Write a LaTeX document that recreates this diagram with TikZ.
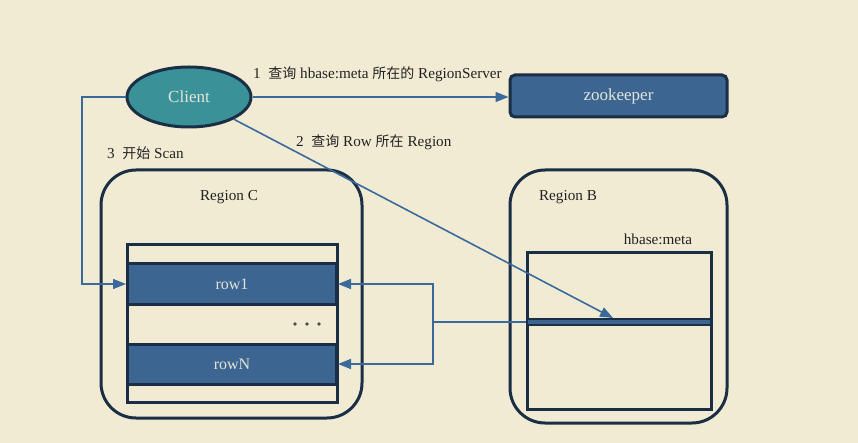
\documentclass[tikz,border=0pt]{standalone}
\usepackage{fontspec}
\setmainfont{Liberation Serif}
\newfontfamily\cjk{Noto Sans CJK SC}
\newcommand{\zh}[1]{{\cjk\fontsize{14}{16}\selectfont #1}}
\usetikzlibrary{arrows.meta,shapes.geometric,calc}
\definecolor{bg}{HTML}{F2EBD4}
\definecolor{teal}{HTML}{3A9298}
\definecolor{boxblue}{HTML}{3D6592}
\definecolor{dark}{HTML}{1A2E45}
\definecolor{arrowblue}{HTML}{3A6A9C}
\definecolor{lighttext}{HTML}{E2E6D8}
\definecolor{txt}{HTML}{222222}
\tikzset{
  region/.style={draw=dark, line width=3pt, rounded corners=35pt},
  tbl/.style={draw=dark, line width=3pt, fill=bg},
  rowbox/.style={draw=dark, line width=3pt, fill=boxblue, text=lighttext, minimum width=209pt, minimum height=40pt, inner sep=0pt, font=\fontsize{16}{18}\selectfont},
  conn/.style={draw=arrowblue, line width=1.6pt, -{Triangle[length=13pt,width=10pt]}},
  plain/.style={draw=arrowblue, line width=1.6pt},
  lbl/.style={text=txt, inner sep=0pt, font=\fontsize{15.2}{17}\selectfont},
}
\begin{document}
\begin{tikzpicture}[x=1pt,y=-1pt]
\fill[bg] (0,0) rectangle (858,443);
\useasboundingbox (0,0) rectangle (858,443);

% regions
\draw[region] (101,170) rectangle (362,418);
\node[lbl] (rcl) at (229,197) {Region C};
\draw[region] (510,170) rectangle (727,423);
\node[lbl] (rbl) at (568,197) {Region B};
\node[lbl] (hml) at (658,239) {hbase:meta};

% table in region C
\node[tbl, minimum width=210pt, minimum height=157pt, inner sep=0pt] (tc) at (232,323.5) {};
\node[rowbox] (row1) at (232,284) {row1};
\node[rowbox] (rowN) at (232,364) {rowN};
\foreach \xx in {295,307,319} \fill[black!70] (\xx,324) circle (1.8pt);

% meta table
\node[tbl, minimum width=184pt, minimum height=156pt, inner sep=0pt] (mt) at (619,331) {};
\node[draw=dark, line width=2pt, fill=boxblue, minimum width=184pt, minimum height=6pt, inner sep=0pt] (band) at (619,322) {};

% client and zookeeper
\node[ellipse, draw=dark, line width=3pt, fill=teal, minimum width=124pt, minimum height=60pt, inner sep=0pt, text=lighttext, font=\fontsize{17}{19}\selectfont] (client) at (189,97) {Client};
\node[draw=dark, line width=3pt, fill=boxblue, rounded corners=5pt, minimum width=217pt, minimum height=42pt, inner sep=0pt, text=lighttext, font=\fontsize{17}{19}\selectfont] (zk) at (618.5,96) {zookeeper};

% labels
\node[lbl, anchor=west] (l1) at (253,74) {1\ \ \zh{查询} hbase:meta \zh{所在的} RegionServer};
\node[lbl, anchor=west] (l2) at (296,142) {2\ \ \zh{查询} Row \zh{所在} Region};
\node[lbl, anchor=west] (l3) at (107,153) {3\ \ \zh{开始} Scan};

% connectors
\draw[conn] (client.east) -- (client.east -| zk.west);
\coordinate (c3) at (82,97);
\draw[conn] (client.west) -- (c3) |- (row1.west);
\coordinate (tip2) at (613,318);
\draw[conn] (client.south east) -- (tip2);
\coordinate (split) at (433,322);
\draw[plain] (band.west) -- (split);
\draw[conn] (split) |- (row1.east);
\draw[conn] (split) |- (rowN.east);
\end{tikzpicture}
\end{document}
